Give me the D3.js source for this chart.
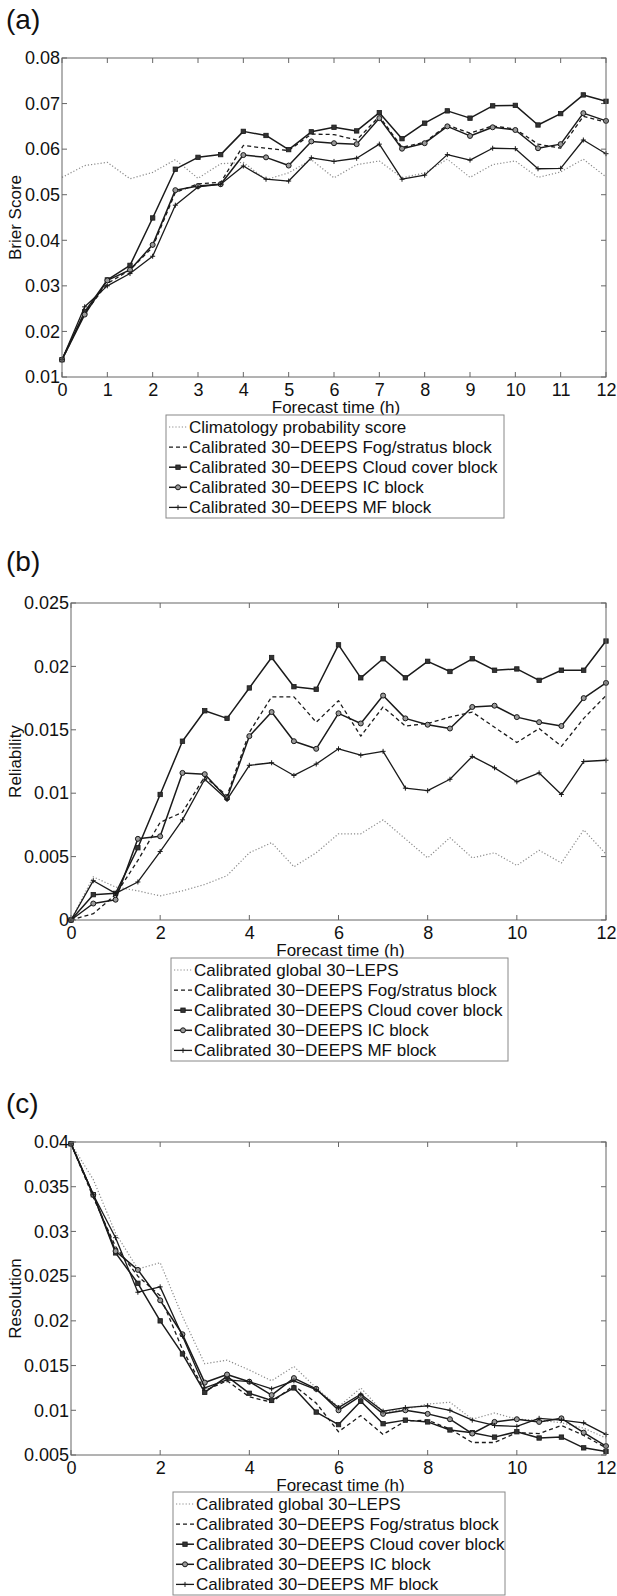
<!DOCTYPE html>
<html>
<head>
<meta charset="utf-8">
<script src="https://cdn.jsdelivr.net/npm/d3@7"></script>
<style>
body { margin: 0; background: #fff; }
svg { display: block; font-family: "Liberation Sans", Arial, sans-serif; }
</style>
</head>
<body>
<svg id="chart" width="617" height="1596"></svg>
<script>
// forecast hours (x categories)
var hours = [0, 0.5, 1, 1.5, 2, 2.5, 3, 3.5, 4, 4.5, 5, 5.5, 6, 6.5, 7, 7.5, 8, 8.5, 9, 9.5, 10, 10.5, 11, 11.5, 12];

// (a) Brier score
var briarClim  = [0.0538, 0.0564, 0.0571, 0.0535, 0.0549, 0.0577, 0.0536, 0.0568, 0.0571, 0.0533, 0.0548, 0.0577, 0.0537, 0.0566, 0.0574, 0.0537, 0.0548, 0.0578, 0.0538, 0.0566, 0.0574, 0.0538, 0.0550, 0.0578, 0.0539];
var briarFog   = [0.0138, 0.0240, 0.0305, 0.0335, 0.0385, 0.0505, 0.0524, 0.0527, 0.0608, 0.0602, 0.0597, 0.0633, 0.0632, 0.0620, 0.0672, 0.0604, 0.0615, 0.0653, 0.0635, 0.0651, 0.0644, 0.0611, 0.0602, 0.0672, 0.0659];
var briarCloud = [0.0138, 0.0243, 0.0313, 0.0345, 0.0449, 0.0556, 0.0582, 0.0588, 0.0639, 0.0630, 0.0599, 0.0638, 0.0648, 0.0640, 0.0680, 0.0623, 0.0657, 0.0684, 0.0668, 0.0695, 0.0696, 0.0653, 0.0678, 0.0719, 0.0705];
var briarIC    = [0.0138, 0.0237, 0.0312, 0.0335, 0.0390, 0.0510, 0.0519, 0.0523, 0.0587, 0.0582, 0.0564, 0.0617, 0.0613, 0.0611, 0.0668, 0.0601, 0.0613, 0.0650, 0.0629, 0.0648, 0.0642, 0.0602, 0.0611, 0.0679, 0.0662];
var briarMF    = [0.0138, 0.0254, 0.0300, 0.0327, 0.0365, 0.0477, 0.0517, 0.0523, 0.0563, 0.0534, 0.0530, 0.0581, 0.0573, 0.0580, 0.0611, 0.0534, 0.0543, 0.0588, 0.0576, 0.0602, 0.0601, 0.0557, 0.0558, 0.0620, 0.0590];

// (b) reliability
var relGlobal = [0, 0.0034, 0.0026, 0.0023, 0.0019, 0.0023, 0.0028, 0.0035, 0.0053, 0.0061, 0.0042, 0.0053, 0.0068, 0.0068, 0.0079, 0.0064, 0.0049, 0.0065, 0.0049, 0.0053, 0.0043, 0.0055, 0.0045, 0.0071, 0.0052];
var relFog    = [0, 0.0005, 0.0020, 0.0047, 0.0077, 0.0085, 0.0113, 0.0098, 0.0148, 0.0176, 0.0176, 0.0156, 0.0173, 0.0145, 0.0168, 0.0153, 0.0155, 0.0160, 0.0164, 0.0152, 0.0140, 0.0151, 0.0137, 0.0159, 0.0177];
var relCloud  = [0, 0.0020, 0.0021, 0.0057, 0.0099, 0.0141, 0.0165, 0.0159, 0.0183, 0.0207, 0.0184, 0.0182, 0.0217, 0.0191, 0.0206, 0.0191, 0.0204, 0.0196, 0.0206, 0.0197, 0.0198, 0.0189, 0.0197, 0.0197, 0.0220];
var relIC     = [0, 0.0013, 0.0016, 0.0064, 0.0066, 0.0116, 0.0115, 0.0096, 0.0145, 0.0164, 0.0141, 0.0135, 0.0163, 0.0155, 0.0177, 0.0159, 0.0154, 0.0151, 0.0168, 0.0169, 0.0160, 0.0156, 0.0153, 0.0175, 0.0187];
var relMF     = [0, 0.0031, 0.0021, 0.0030, 0.0054, 0.0079, 0.0111, 0.0095, 0.0122, 0.0124, 0.0114, 0.0123, 0.0135, 0.0130, 0.0133, 0.0104, 0.0102, 0.0111, 0.0129, 0.0120, 0.0109, 0.0116, 0.0099, 0.0125, 0.0126];

// (c) resolution
var resGlobal = [0.0398, 0.0358, 0.0298, 0.0258, 0.0265, 0.0205, 0.0152, 0.0156, 0.0145, 0.0133, 0.0149, 0.0125, 0.0104, 0.0125, 0.0098, 0.0101, 0.0107, 0.0109, 0.0090, 0.0097, 0.0090, 0.0089, 0.0086, 0.0080, 0.0069];
var resFog    = [0.0398, 0.0338, 0.0283, 0.0250, 0.0228, 0.0168, 0.0122, 0.0133, 0.0115, 0.0109, 0.0128, 0.0108, 0.0076, 0.0094, 0.0073, 0.0088, 0.0089, 0.0079, 0.0064, 0.0064, 0.0075, 0.0074, 0.0083, 0.0072, 0.0058];
var resCloud  = [0.0398, 0.0341, 0.0276, 0.0242, 0.0200, 0.0163, 0.0120, 0.0138, 0.0119, 0.0111, 0.0125, 0.0098, 0.0084, 0.0110, 0.0085, 0.0089, 0.0087, 0.0078, 0.0075, 0.0070, 0.0076, 0.0069, 0.0070, 0.0058, 0.0054];
var resIC     = [0.0398, 0.0341, 0.0278, 0.0257, 0.0223, 0.0185, 0.0131, 0.0140, 0.0132, 0.0117, 0.0136, 0.0124, 0.0100, 0.0116, 0.0096, 0.0100, 0.0096, 0.0090, 0.0074, 0.0087, 0.0090, 0.0087, 0.0091, 0.0075, 0.0060];
var resMF     = [0.0398, 0.0341, 0.0293, 0.0232, 0.0238, 0.0183, 0.0125, 0.0134, 0.0132, 0.0124, 0.0133, 0.0123, 0.0103, 0.0118, 0.0099, 0.0103, 0.0105, 0.0100, 0.0089, 0.0083, 0.0082, 0.0091, 0.0089, 0.0086, 0.0073];

// tick values
var ticksA = [0.01, 0.02, 0.03, 0.04, 0.05, 0.06, 0.07, 0.08];
var ticksB = [0, 0.005, 0.01, 0.015, 0.02, 0.025];
var ticksC = [0.005, 0.01, 0.015, 0.02, 0.025, 0.03, 0.035, 0.04];
var hourTicksA = [0, 1, 2, 3, 4, 5, 6, 7, 8, 9, 10, 11, 12];
var hourTicksB = [0, 2, 4, 6, 8, 10, 12];

var blockNames = ["Calibrated 30\u2212DEEPS Fog/stratus block", "Calibrated 30\u2212DEEPS Cloud cover block",
                  "Calibrated 30\u2212DEEPS IC block", "Calibrated 30\u2212DEEPS MF block"];

var styles = [
    {stroke: "#8a8a8a", width: 1.2, dash: "1.2,2", marker: null},
    {stroke: "#1a1a1a", width: 1.3, dash: "4,3", marker: null},
    {stroke: "#1a1a1a", width: 1.5, dash: null, marker: "square"},
    {stroke: "#1a1a1a", width: 1.5, dash: null, marker: "circle"},
    {stroke: "#1a1a1a", width: 1.3, dash: null, marker: "plus"}
];

var panels = [
    {tag: "(a)", tagY: 29, top: 58, bottom: 377, left: 62, right: 606, yLabel: "Brier Score",
     domain: [0.01, 0.08], yTicks: ticksA, xTicks: hourTicksA, legend: [166, 504, 415],
     series: [briarClim, briarFog, briarCloud, briarIC, briarMF],
     names: ["Climatology probability score"].concat(blockNames)},
    {tag: "(b)", tagY: 571, top: 603, bottom: 920, left: 71, right: 606, yLabel: "Reliability",
     domain: [0, 0.025], yTicks: ticksB, xTicks: hourTicksB, legend: [171, 508, 958],
     series: [relGlobal, relFog, relCloud, relIC, relMF],
     names: ["Calibrated global 30\u2212LEPS"].concat(blockNames)},
    {tag: "(c)", tagY: 1113, top: 1142, bottom: 1455, left: 71, right: 606, yLabel: "Resolution",
     domain: [0.005, 0.04], yTicks: ticksC, xTicks: hourTicksB, legend: [173, 505, 1492],
     series: [resGlobal, resFog, resCloud, resIC, resMF],
     names: ["Calibrated global 30\u2212LEPS"].concat(blockNames)}
];

var svg = d3.select("#chart");
svg.append("rect").attr("width", 617).attr("height", 1596).attr("fill", "#fff");

function fmt(d) { return String(+d.toFixed(3)); }

function drawMarker(g, type, x, y, color) {
    if (type === "square") {
        g.append("rect").attr("x", x - 2.2).attr("y", y - 2.2).attr("width", 4.4).attr("height", 4.4)
            .attr("fill", "#333").attr("stroke", color).attr("stroke-width", 0.8);
    } else if (type === "circle") {
        g.append("circle").attr("cx", x).attr("cy", y).attr("r", 2.5)
            .attr("fill", "#999").attr("stroke", color).attr("stroke-width", 1);
    } else if (type === "plus") {
        g.append("path").attr("d", "M" + (x - 2.5) + "," + y + "H" + (x + 2.5) + "M" + x + "," + (y - 2.5) + "V" + (y + 2.5))
            .attr("stroke", color).attr("stroke-width", 1);
    }
}

panels.forEach(function (p) {
    var x = d3.scaleLinear().domain([0, 12]).range([p.left, p.right]);
    var y = d3.scaleLinear().domain(p.domain).range([p.bottom, p.top]);
    var g = svg.append("g");

    g.append("text").attr("x", 6).attr("y", p.tagY).attr("font-size", 28).attr("fill", "#111").text(p.tag);

    // inward ticks on all four sides
    var ticksG = g.append("g").attr("stroke", "#666").attr("stroke-width", 1);
    p.xTicks.forEach(function (t) {
        ticksG.append("line").attr("x1", x(t)).attr("x2", x(t)).attr("y1", p.bottom).attr("y2", p.bottom - 5);
        ticksG.append("line").attr("x1", x(t)).attr("x2", x(t)).attr("y1", p.top).attr("y2", p.top + 5);
    });
    p.yTicks.forEach(function (t) {
        ticksG.append("line").attr("x1", p.left).attr("x2", p.left + 5).attr("y1", y(t)).attr("y2", y(t));
        ticksG.append("line").attr("x1", p.right).attr("x2", p.right - 5).attr("y1", y(t)).attr("y2", y(t));
    });

    var xAxis = d3.axisBottom(x).tickValues(p.xTicks).tickSize(0).tickPadding(0).tickFormat(fmt);
    var xg = g.append("g").attr("transform", "translate(0," + p.bottom + ")").call(xAxis);
    xg.select(".domain").remove();
    xg.selectAll("text").attr("font-size", 18).attr("fill", "#111").attr("font-family", "Liberation Sans, Arial, sans-serif")
        .attr("dy", 0).attr("y", 19);

    var yAxis = d3.axisLeft(y).tickValues(p.yTicks).tickSize(0).tickPadding(2).tickFormat(fmt);
    var yg = g.append("g").attr("transform", "translate(" + p.left + ",0)").call(yAxis);
    yg.select(".domain").remove();
    yg.selectAll("text").attr("font-size", 18).attr("fill", "#111").attr("font-family", "Liberation Sans, Arial, sans-serif");

    g.append("text").attr("x", (p.left + p.right) / 2 + 2).attr("y", p.bottom + 36).attr("text-anchor", "middle")
        .attr("font-size", 17).attr("fill", "#111").text("Forecast time (h)");
    g.append("text").attr("transform", "translate(21," + (p.top + p.bottom) / 2 + ") rotate(-90)")
        .attr("text-anchor", "middle").attr("font-size", 17).attr("fill", "#111").text(p.yLabel);

    // data lines
    p.series.forEach(function (vals, i) {
        var st = styles[i];
        var line = d3.line().x(function (d, k) { return x(hours[k]); }).y(function (d) { return y(d); });
        g.append("path").datum(vals).attr("d", line).attr("fill", "none")
            .attr("stroke", st.stroke).attr("stroke-width", st.width)
            .attr("stroke-dasharray", st.dash).attr("stroke-linejoin", "round");
        if (st.marker) {
            var mg = g.append("g");
            vals.forEach(function (v, k) { drawMarker(mg, st.marker, x(hours[k]), y(v), st.stroke); });
        }
    });

    g.append("rect").attr("x", p.left).attr("y", p.top).attr("width", p.right - p.left).attr("height", p.bottom - p.top)
        .attr("fill", "none").attr("stroke", "#666").attr("stroke-width", 1);

    // legend
    var lx0 = p.legend[0], lx1 = p.legend[1], ly0 = p.legend[2];
    var lg = g.append("g");
    lg.append("rect").attr("x", lx0).attr("y", ly0).attr("width", lx1 - lx0).attr("height", 103)
        .attr("fill", "#fff").attr("stroke", "#888").attr("stroke-width", 1);
    p.names.forEach(function (name, i) {
        var st = styles[i];
        var cy = ly0 + 12 + i * 20.1;
        lg.append("line").attr("x1", lx0 + 3).attr("x2", lx0 + 21).attr("y1", cy).attr("y2", cy)
            .attr("stroke", st.stroke).attr("stroke-width", st.width).attr("stroke-dasharray", st.dash);
        if (st.marker) drawMarker(lg, st.marker, lx0 + 12, cy, st.stroke);
        lg.append("text").attr("x", lx0 + 23).attr("y", cy + 6).attr("font-size", 17).attr("fill", "#111").text(name);
    });
});
</script>
</body>
</html>
